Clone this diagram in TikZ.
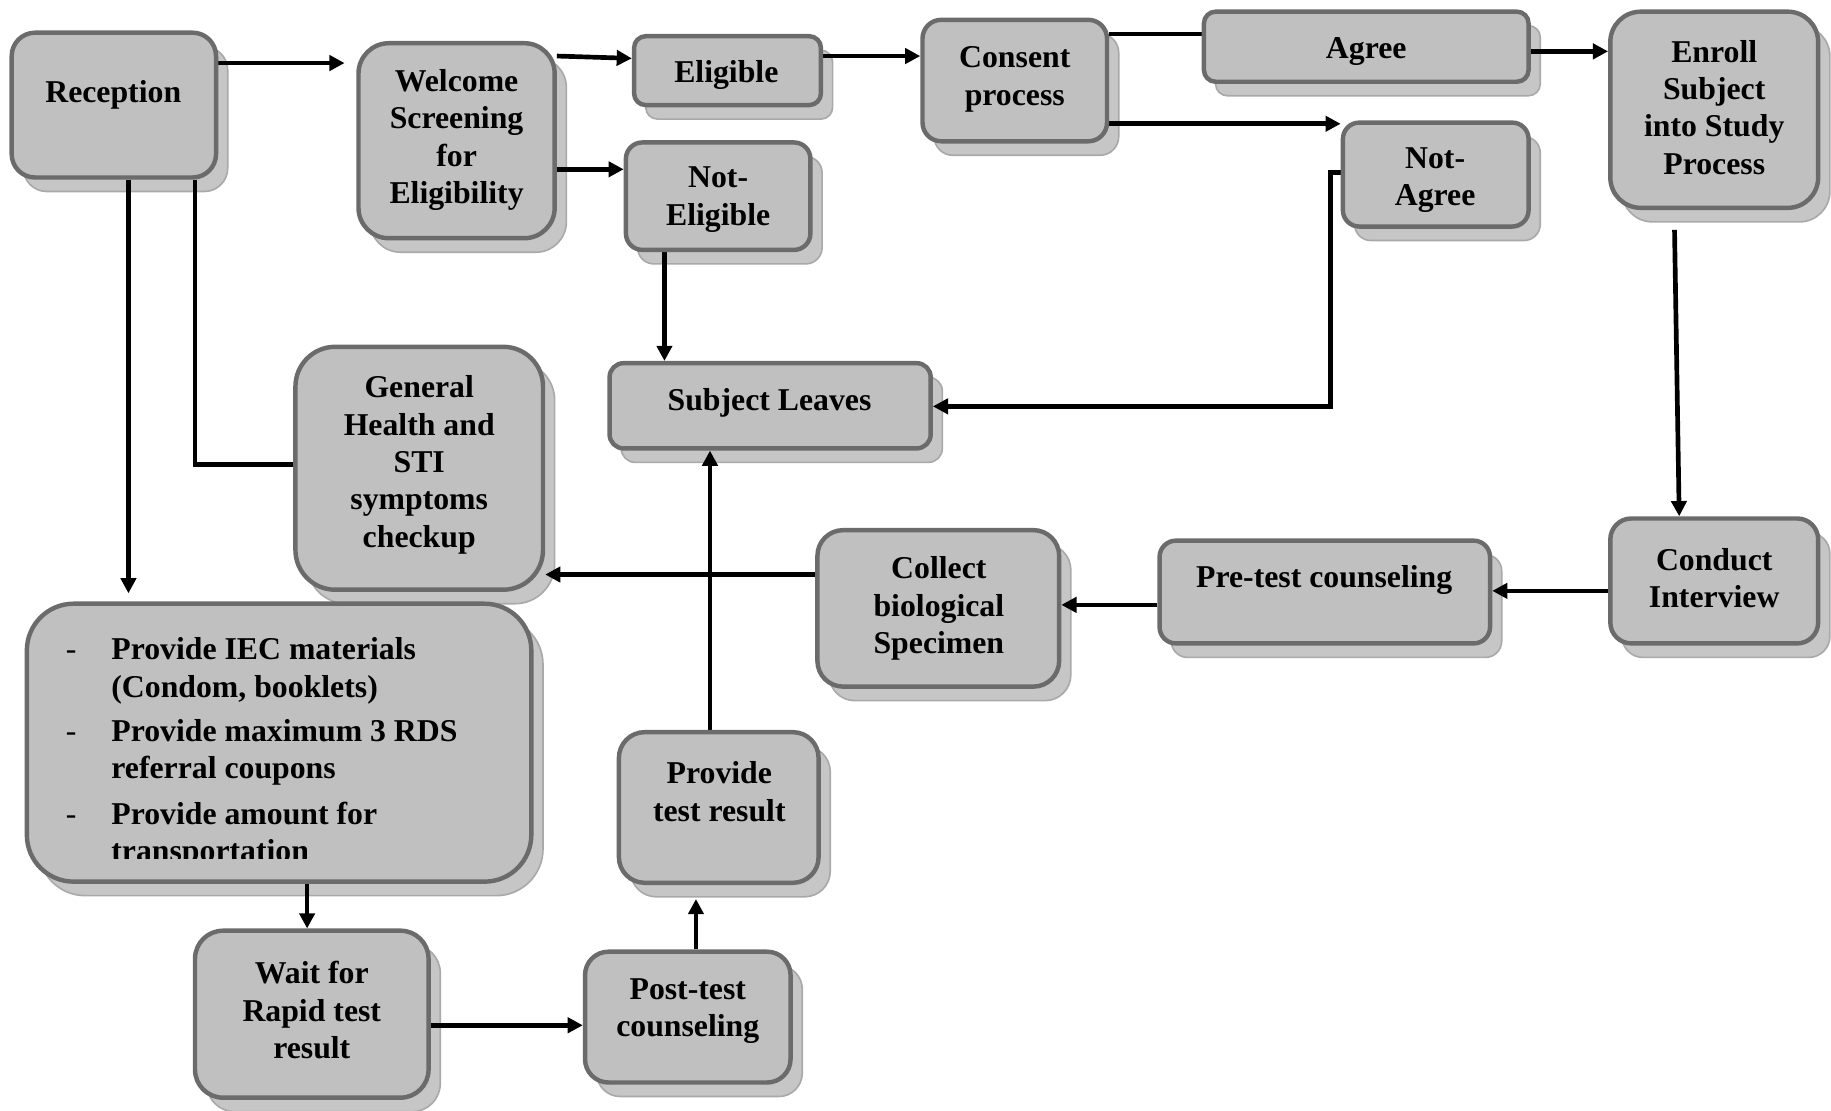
\documentclass[tikz,border=0pt]{standalone}
\usepackage{fontspec}
\setmainfont{Liberation Serif}
\usetikzlibrary{arrows.meta,fit}

\definecolor{boxfill}{HTML}{C0C0C0}
\definecolor{boxline}{HTML}{6B6B6B}
\definecolor{shadfill}{HTML}{C6C6C6}
\definecolor{shadline}{HTML}{A9A9A9}

\pgfdeclarelayer{shadows}
\pgfdeclarelayer{links}
\pgfsetlayers{shadows,links,main}

\tikzset{
  box/.style={draw=boxline, line width=1.9pt, fill=boxfill, inner sep=0pt},
  shadow box/.style={fill=shadfill, draw=shadline, line width=0.7pt},
  txt/.style={font=\fontsize{13.6}{16}\selectfont\bfseries, align=center, inner sep=0pt},
  item/.style={font=\fontsize{13.6}{16}\selectfont\bfseries, anchor=base west, inner sep=0pt},
  dashmark/.style={font=\fontsize{13.6}{16}\selectfont, anchor=base west, inner sep=0pt},
  link/.style={line width=2pt, black},
  arr/.style={link, -{Triangle[length=6.5pt,width=6.5pt]}},
}

% rounded box with a drop shadow: name, x1, y1, x2, y2, corner radius
\newcommand\flowbox[6]{%
  \begin{pgfonlayer}{shadows}
    \draw[shadow box, rounded corners=#6] (#2+10,#3+12) rectangle (#4+10,#5+12);
  \end{pgfonlayer}
  \node[box, rounded corners=#6, fit={(#2,#3) (#4,#5)}] (#1) {};
}

\begin{document}
\begin{tikzpicture}[x=0.5pt, y=-0.5pt]
\useasboundingbox (0,0) rectangle (1568,951);

% boxes
\flowbox{recep}{10}{28}{185}{152}{10pt}
\flowbox{welcome}{307}{37}{475}{204}{13pt}
\flowbox{elig}{543}{31}{703}{90}{5pt}
\flowbox{noteli}{536}{122}{694}{214}{7pt}
\flowbox{consent}{790}{17}{948}{121}{8pt}
\flowbox{agree}{1031}{10}{1309}{70}{5pt}
\flowbox{notagree}{1150}{105}{1309}{194}{7pt}
\flowbox{enroll}{1379}{10}{1557}{178}{13pt}
\flowbox{general}{253}{297}{465}{505}{17pt}
\flowbox{leaves}{522}{311}{797}{384}{6pt}
\flowbox{collect}{700}{454}{907}{588}{11pt}
\flowbox{pretest}{993}{463}{1276}{551}{7pt}
\flowbox{conduct}{1379}{444}{1557}{551}{9pt}
\flowbox{iec}{23}{517}{455}{755}{20pt}
\flowbox{result}{530}{627}{701}{756}{11pt}
\flowbox{wait}{167}{797}{367}{940}{12pt}
\flowbox{post}{501}{815}{677}{927}{10pt}

% labels
\node[txt] (recep-t) at (97,81) {Reception};
\node[txt] (welcome-t) at (391,120) {Welcome\\Screening\\for\\Eligibility};
\node[txt] (elig-t) at (622,64) {Eligible};
\node[txt] (noteli-t) at (615,171) {Not-\\Eligible};
\node[txt] (consent-t) at (869,68) {Consent\\process};
\node[txt] (agree-t) at (1170,44) {Agree};
\node[txt] (notagree-t) at (1229,154) {Not-\\Agree};
\node[txt] (enroll-t) at (1468,92) {Enroll\\Subject\\into Study\\Process};
\node[txt] (general-t) at (359,398) {General\\Health and\\STI\\symptoms\\checkup};
\node[txt] (leaves-t) at (659,345) {Subject Leaves};
\node[txt] (collect-t) at (804,521) {Collect\\biological\\Specimen};
\node[txt] (pretest-t) at (1134,497) {Pre-test counseling};
\node[txt] (conduct-t) at (1468,495) {Conduct\\Interview};
\node[txt] (result-t) at (616,678) {Provide\\test result};
\node[txt] (wait-t) at (267,865) {Wait for\\Rapid test\\result};
\node[txt] (post-t) at (589,866) {Post-test\\counseling};

% bulleted list, cut off at the bottom of its text area
\begin{scope}
  \clip (30,520) rectangle (450,735);
  \node[dashmark] (d1) at (56,565) {-};
  \node[item] (i1) at (95,565) {Provide IEC materials};
  \node[item] (i1b) at (95,597) {(Condom, booklets)};
  \node[dashmark] (d2) at (56,635) {-};
  \node[item] (i2) at (95,635) {Provide maximum 3 RDS};
  \node[item] (i2b) at (95,667) {referral coupons};
  \node[dashmark] (d3) at (56,706) {-};
  \node[item] (i3) at (95,706) {Provide amount for};
  \node[item] (i3b) at (95,738) {transportation};
\end{scope}

% connectors
\begin{pgfonlayer}{links}
  \draw[arr, shorten >=5pt] (recep.east |- 0,54) -- (welcome.west |- 0,54);
  \draw[arr] (welcome.east |- 0,48) -- (elig.west |- 0,50);
  \draw[arr] (welcome.east |- 0,145) -- (noteli.west |- 0,145);
  \draw[arr] (elig.east |- 0,48) -- (consent.west |- 0,48);
  \draw[link] (consent.east |- 0,29) -- (agree.west |- 0,29);
  \draw[arr] (consent.east |- 0,106) -- (notagree.west |- 0,106);
  \draw[arr] (agree.east |- 0,44) -- (enroll.west |- 0,44);
  \draw[arr] ([xshift=-17pt, yshift=-8.5pt]enroll.south) -- ([xshift=-15pt]conduct.north);
  \draw[arr] (conduct.west |- 0,506) -- (pretest.east |- 0,506);
  \draw[arr] (pretest.west |- 0,518) -- (collect.east |- 0,518);
  \draw[arr] (collect.west |- 0,492) -- (general.east |- 0,492);
  \draw[arr] (notagree.west |- 0,148) -- ++(-4.5pt,0) |- (leaves.east |- 0,348);
  \draw[arr] (noteli.south -| 569,0) -- (leaves.north -| 569,0);
  \draw[arr] (result.north -| 608,0) -- (leaves.south -| 608,0);
  \draw[link] (recep.south -| 167,0) |- (general.west |- 0,398);
  \draw[arr, shorten >=3.5pt] (recep.south -| 110,0) -- (iec.north -| 110,0);
  \draw[arr] (iec.south -| 263,0) -- (wait.north -| 263,0);
  \draw[arr] (wait.east |- 0,878) -- (post.west |- 0,878);
  \draw[arr, shorten >=6pt] (post.north -| 596,0) -- (result.south -| 596,0);
\end{pgfonlayer}
\end{tikzpicture}
\end{document}
